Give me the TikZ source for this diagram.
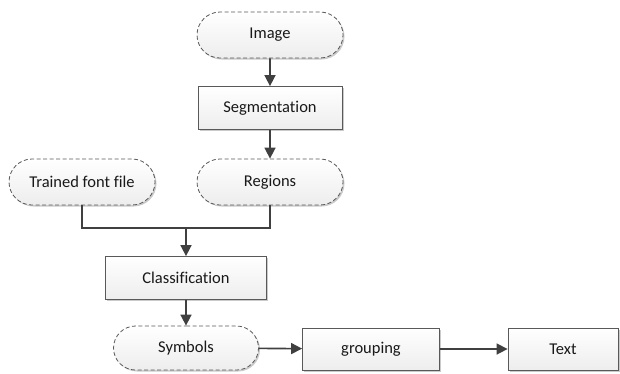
\documentclass[tikz,border=0pt]{standalone}
\usepackage{fontspec}
\setmainfont[Ligatures=NoCommon]{Carlito}
\usetikzlibrary{arrows.meta,shapes.misc,shadows}

\begin{document}
\begin{tikzpicture}[x=1pt,y=-1pt,
  every node/.style={font=\fontsize{16.5}{19}\selectfont, text=black!90, inner sep=0pt},
  data/.style={rounded rectangle, draw=black!65, dashed, dash pattern=on 4pt off 2.5pt, line width=0.8pt,
    top color=white, bottom color=black!7,
    drop shadow={shadow xshift=1.5pt, shadow yshift=-1.5pt, fill=black!35, opacity=0.6},
    minimum width=146pt, minimum height=46pt},
  proc/.style={rectangle, draw=black!65, line width=0.8pt,
    top color=white, bottom color=black!7,
    drop shadow={shadow xshift=1.5pt, shadow yshift=-1.5pt, fill=black!35, opacity=0.6},
    minimum height=43pt},
  flow/.style={draw=black!75, line width=1.6pt, -{Triangle[length=11pt,width=11pt]}},
  link/.style={draw=black!75, line width=1.6pt}]
\useasboundingbox (0,0) rectangle (620,373);
\node[data] (image) at (270,35) {Image};
\node[proc, minimum width=144pt] (segment) at (270,108) {Segmentation};
\node[data] (fontfile) at (82,182) {Trained font file};
\node[data] (regions) at (270,182) {Regions};
\coordinate (join) at (186,228);
\node[proc, minimum width=161pt] (classify) at (186,278) {Classification};
\node[data, minimum width=145pt, minimum height=44pt] (symbols) at (186,348) {Symbols};
\node[proc, minimum width=137pt, minimum height=42pt] (grouping) at (371,349) {grouping};
\node[proc, minimum width=110pt, minimum height=42pt] (text) at (563,349) {Text};
\draw[flow] (image) -- (segment);
\draw[flow] (segment) -- (regions);
\draw[link] (fontfile) |- (join) -| (regions);
\draw[flow] (join) -- (classify);
\draw[flow] (classify) -- (symbols);
\draw[flow] (symbols) -- (grouping);
\draw[flow] (grouping) -- (text);
\end{tikzpicture}
\end{document}
